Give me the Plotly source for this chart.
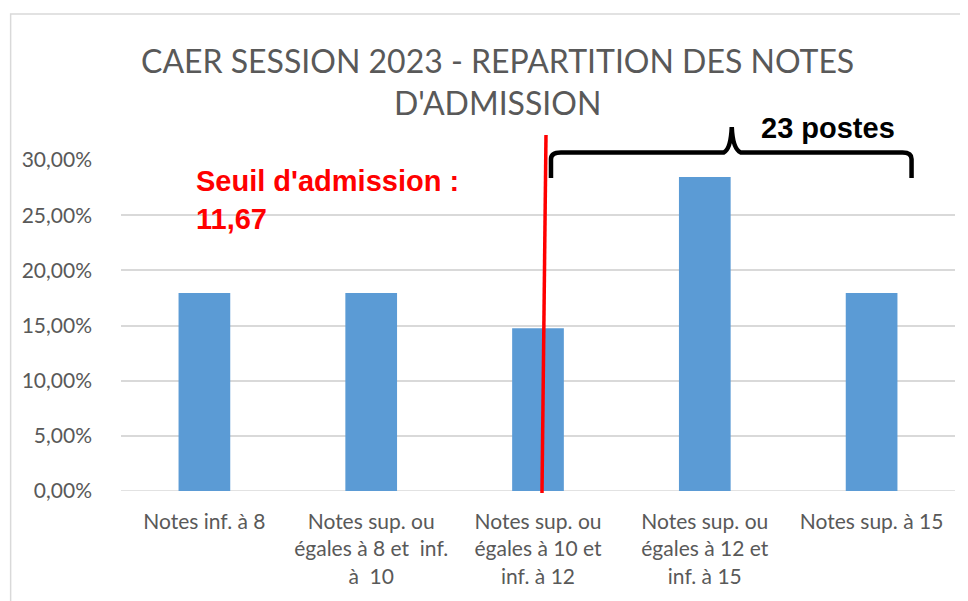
import plotly.graph_objects as go

categories = [
    "Notes inf. à 8",
    "Notes sup. ou<br>égales à 8 et  inf.<br>à  10",
    "Notes sup. ou<br>égales à 10 et<br>inf. à 12",
    "Notes sup. ou<br>égales à 12 et<br>inf. à 15",
    "Notes sup. à 15",
]
values = [0.1795, 0.1795, 0.1475, 0.2845, 0.1795]
tick_vals = [0, 0.05, 0.10, 0.15, 0.20, 0.25, 0.30]
tick_text = ["0,00%", "5,00%", "10,00%", "15,00%", "20,00%", "25,00%", "30,00%"]
title_text = "CAER SESSION 2023 - REPARTITION DES NOTES<br>D'ADMISSION"
seuil_text = "Seuil d'admission :<br>11,67"
postes_text = "23 postes"

# page body has an 8px margin; work in reference pixel coords and shift
OFF = 8
W, H = 968 - OFF, 601 - OFF
ML, MR, MT, MB = 120.5 - OFF, 968 - 955.5, 160 - OFF, 601 - 491
PW, PH = W - ML - MR, H - MT - MB

def px(x):
    return (x - OFF - ML) / PW

def py(y):
    return (H - MB - (y - OFF)) / PH

FONT = "Lato, Calibri, Carlito, sans-serif"
BOLD = "Liberation Sans, Arial, sans-serif"
GRAY = "#595959"

fig = go.Figure(go.Bar(
    x=list(range(len(categories))), y=values,
    marker=dict(color="#5b9bd5", line=dict(width=0)),
    width=0.31,
))

fig.update_layout(
    width=W, height=H,
    margin=dict(l=ML, r=MR, t=MT, b=MB, pad=0),
    paper_bgcolor="white", plot_bgcolor="white",
    showlegend=False,
    font=dict(family=FONT, color=GRAY, size=21),
    xaxis=dict(
        tickmode="array", tickvals=list(range(len(categories))), ticktext=categories,
        range=[-0.5, len(categories) - 0.5], showgrid=False, zeroline=False,
        showline=False, ticks="", tickfont=dict(size=21, color=GRAY),
        ticklabelstandoff=16, automargin=False,
    ),
    yaxis=dict(
        range=[0, 0.30], tickmode="array", tickvals=tick_vals, ticktext=tick_text,
        showgrid=True, gridcolor="#d9d9d9", gridwidth=1.5, zeroline=False,
        showline=False, ticks="", ticklen=0, tickfont=dict(size=21, color=GRAY),
        ticklabelstandoff=28, automargin=False,
    ),
)

shapes = [
    dict(type="line", xref="paper", yref="y", x0=0, x1=1, y0=0, y1=0,
         line=dict(color="#d9d9d9", width=1.5), layer="below"),
    dict(type="rect", xref="paper", yref="paper",
         x0=px(10), x1=px(990), y0=py(14), y1=py(620),
         line=dict(color="#d9d9d9", width=1.5), layer="below"),
    dict(type="line", xref="paper", yref="paper",
         x0=px(546), y0=py(135), x1=px(542), y1=py(493),
         line=dict(color="#ff0000", width=3.5)),
]
bx = [551, 551, 556, 561, 724, 729, 732, 736, 741, 903, 908, 912, 912]
by = [178, 159, 152.5, 152.5, 152.5, 150, 127, 150, 152.5, 152.5, 152.5, 159, 178]
path = "M {} {}".format(px(bx[0]), py(by[0]))
path += " L {} {}".format(px(bx[1]), py(by[1]))
path += " Q {} {} {} {}".format(px(bx[1]), py(by[2]), px(bx[3]), py(by[3]))
path += " L {} {}".format(px(bx[4]), py(by[4]))
path += " Q {} {} {} {}".format(px(bx[6] - 1), py(by[5] - 1), px(bx[6]), py(by[6]))
path += " Q {} {} {} {}".format(px(bx[6] + 1), py(by[7] - 1), px(bx[8]), py(by[8]))
path += " L {} {}".format(px(bx[9]), py(by[9]))
path += " Q {} {} {} {}".format(px(bx[12]), py(by[10]), px(bx[12]), py(by[11]))
path += " L {} {}".format(px(bx[12]), py(by[12]))
shapes.append(dict(type="path", xref="paper", yref="paper", path=path,
                   line=dict(color="black", width=4.5)))
fig.update_layout(shapes=shapes)

fig.add_annotation(text=title_text, xref="paper", yref="paper",
                   x=px(497), y=py(81.5), xanchor="center", yanchor="middle",
                   showarrow=False, align="center",
                   font=dict(family=FONT, size=32, color=GRAY))
fig.add_annotation(text="<b>" + seuil_text + "</b>", xref="paper", yref="paper",
                   x=px(194), y=py(200), xanchor="left", yanchor="middle",
                   showarrow=False, align="left",
                   font=dict(family=BOLD, size=29, color="#ff0000"))
fig.add_annotation(text="<b>" + postes_text + "</b>", xref="paper", yref="paper",
                   x=px(828), y=py(128), xanchor="center", yanchor="middle",
                   showarrow=False,
                   font=dict(family=BOLD, size=29, color="black"))

fig.write_html("out.html")
